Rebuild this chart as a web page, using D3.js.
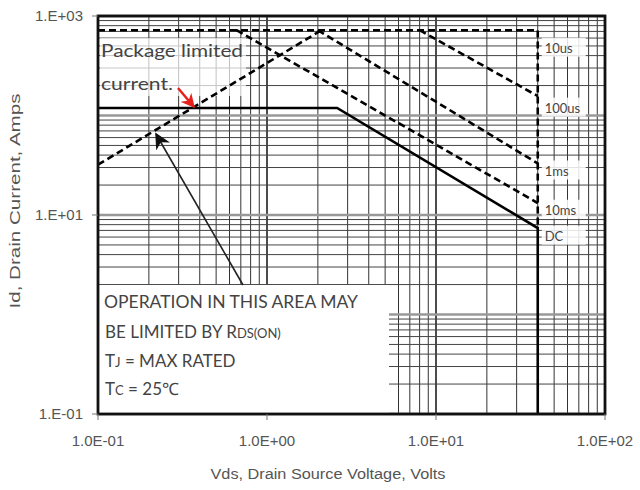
<!DOCTYPE html>
<meta charset="utf-8">
<style>
body { margin: 0; background: #fff; }
svg { font-family: "Liberation Sans", Arial, sans-serif; }
.note { font-family: Lato, "Noto Sans", sans-serif; fill: #444; }
</style>
<body>
<script src="https://cdn.jsdelivr.net/npm/d3@7"></script>
<script>
// SAFE OPERATING AREA - Vds vs Id, log / log

// axis ticks
var xTicks = [0.1, 1, 10, 100];
var xTickLabels = ["1.0E-01", "1.0E+00", "1.0E+01", "1.0E+02"];
var yTicks = [0.1, 10, 1000];
var yTickLabels = ["1.E-01", "1.E+01", "1.E+03"];

// curves, [Vds, Id] pairs
var line10us = [[0.1, 720], [40, 720], [40, 7.4]];
var line100us = [[8.0, 720], [40, 157]];
var line1ms = [[2.0, 720], [40, 33]];
var line10ms = [[0.66, 720], [40, 13.2]];
var lineDC = [[0.1, 119], [2.6, 119], [40, 7.4], [40, 0.1]];
var lineRds = [[0.1, 32], [2.1, 720]];

// curve labels on the right: name and the current they sit at
var curveNames = ["10us", "100us", "1ms", "10ms", "DC"];
var curveLabelAt = [480, 120, 28, 11.3, 6.2];

var width = 640, height = 490;
var pLeft = 98, pTop = 16, pRight = 605, pBottom = 414;

var svg = d3.select("body").append("svg")
  .attr("width", width)
  .attr("height", height);

var x = d3.scaleLog().domain([0.1, 100]).range([pLeft, pRight]);
var y = d3.scaleLog().domain([0.1, 1000]).range([pBottom, pTop]);

// GRID
var isDecade = d => Math.abs(Math.log10(d) - Math.round(Math.log10(d))) < 1e-9;
var grid = svg.append("g");
grid.selectAll(".vx").data(x.ticks())
  .enter().append("line")
  .attr("x1", d => x(d)).attr("x2", d => x(d))
  .attr("y1", pTop).attr("y2", pBottom)
  .attr("stroke", d => isDecade(d) ? "#111" : "#333")
  .attr("stroke-width", d => isDecade(d) ? 1.5 : 1);
grid.selectAll(".hy").data(y.ticks())
  .enter().append("line")
  .attr("x1", pLeft).attr("x2", pRight)
  .attr("y1", d => y(d)).attr("y2", d => y(d))
  .attr("stroke", d => isDecade(d) ? "#999" : "#444")
  .attr("stroke-width", d => isDecade(d) ? 2.4 : 1);

// white boxes behind the notes
svg.append("rect").attr("x", pLeft + 1).attr("y", 285)
  .attr("width", 290).attr("height", pBottom - 286).attr("fill", "#fff");
svg.append("rect").attr("x", pLeft + 2).attr("y", 38)
  .attr("width", 146).attr("height", 58).attr("fill", "#fff").attr("opacity", 0.7);
svg.selectAll(".lblbox").data(curveLabelAt)
  .enter().append("rect")
  .attr("x", x(40) + 4).attr("y", d => y(d) - 10)
  .attr("width", 44).attr("height", 19)
  .attr("fill", "#fff").attr("opacity", 0.85);

// CURVES
var line = d3.line().x(d => x(d[0])).y(d => y(d[1]));
var dashed = [line10us, line100us, line1ms, line10ms, lineRds];
svg.selectAll(".dash").data(dashed)
  .enter().append("path")
  .attr("d", line)
  .attr("fill", "none")
  .attr("stroke", "#000")
  .attr("stroke-width", 2.6)
  .attr("stroke-dasharray", "7,4");
svg.append("path")
  .attr("d", line(lineDC))
  .attr("fill", "none")
  .attr("stroke", "#000")
  .attr("stroke-width", 2.6);

// curve labels
svg.selectAll(".lbl").data(curveNames)
  .enter().append("text")
  .attr("class", "note")
  .attr("x", x(40) + 7)
  .attr("y", (d, i) => y(curveLabelAt[i]) + 5)
  .attr("font-size", 13)
  .text(d => d);

// FRAME
svg.append("rect")
  .attr("x", pLeft).attr("y", pTop)
  .attr("width", pRight - pLeft).attr("height", pBottom - pTop)
  .attr("fill", "none").attr("stroke", "#111").attr("stroke-width", 2.8);

// AXES
svg.selectAll(".xt").data(xTicks)
  .enter().append("line")
  .attr("x1", d => x(d)).attr("x2", d => x(d))
  .attr("y1", pBottom).attr("y2", pBottom + 6)
  .attr("stroke", "#777");
svg.selectAll(".xl").data(xTicks)
  .enter().append("text")
  .attr("x", d => x(d)).attr("y", 446)
  .attr("text-anchor", "middle")
  .attr("font-size", 15).attr("fill", "#555")
  .text((d, i) => xTickLabels[i]);
svg.selectAll(".yt").data(yTicks)
  .enter().append("line")
  .attr("x1", pLeft - 6).attr("x2", pLeft)
  .attr("y1", d => y(d)).attr("y2", d => y(d))
  .attr("stroke", "#777");
svg.selectAll(".yl").data(yTicks)
  .enter().append("text")
  .attr("x", pLeft - 15).attr("y", d => y(d) + 5)
  .attr("text-anchor", "end")
  .attr("font-size", 15).attr("fill", "#555")
  .text((d, i) => yTickLabels[i]);

svg.append("text")
  .attr("x", 328).attr("y", 479)
  .attr("text-anchor", "middle")
  .attr("font-size", 14).attr("fill", "#555")
  .attr("textLength", 235).attr("lengthAdjust", "spacingAndGlyphs")
  .text("Vds, Drain Source Voltage, Volts");
svg.append("text")
  .attr("transform", "translate(20,201) rotate(-90)")
  .attr("text-anchor", "middle")
  .attr("font-size", 14).attr("fill", "#555")
  .attr("textLength", 215).attr("lengthAdjust", "spacingAndGlyphs")
  .text("Id, Drain Current, Amps");

// NOTES
svg.append("text").attr("class", "note")
  .attr("x", 101).attr("y", 57).attr("font-size", 18)
  .attr("textLength", 142).attr("lengthAdjust", "spacingAndGlyphs")
  .text("Package limited");
svg.append("text").attr("class", "note")
  .attr("x", 101).attr("y", 90).attr("font-size", 18)
  .attr("textLength", 72).attr("lengthAdjust", "spacingAndGlyphs")
  .text("current.");

var notes = svg.append("g").attr("class", "note").attr("font-size", 17);
notes.append("text").attr("x", 104).attr("y", 308)
  .attr("textLength", 254).attr("lengthAdjust", "spacingAndGlyphs")
  .text("OPERATION IN THIS AREA MAY");
var t2 = notes.append("text").attr("x", 105).attr("y", 338);
t2.append("tspan").text("BE LIMITED BY R");
t2.append("tspan").attr("font-size", 13).text("DS(ON)");
var t3 = notes.append("text").attr("x", 105).attr("y", 367);
t3.append("tspan").text("T");
t3.append("tspan").attr("font-size", 13).text("J");
t3.append("tspan").text(" = MAX RATED");
var t4 = notes.append("text").attr("x", 105).attr("y", 395);
t4.append("tspan").text("T");
t4.append("tspan").attr("font-size", 13).text("C");
t4.append("tspan").text(" = 25\u2103");

// ARROWS
var defs = svg.append("defs");
defs.append("marker").attr("id", "redhead")
  .attr("viewBox", "0 0 10 10").attr("refX", 9).attr("refY", 5)
  .attr("markerWidth", 14).attr("markerHeight", 14)
  .attr("markerUnits", "userSpaceOnUse")
  .attr("orient", "auto")
  .append("path").attr("d", "M0,0 L10,5 L0,10 L3,5 Z").attr("fill", "#e8201c");
defs.append("marker").attr("id", "blackhead")
  .attr("viewBox", "0 0 10 10").attr("refX", 9).attr("refY", 5)
  .attr("markerWidth", 16).attr("markerHeight", 16)
  .attr("markerUnits", "userSpaceOnUse")
  .attr("orient", "auto")
  .append("path").attr("d", "M0,0 L10,5 L0,10 L3,5 Z").attr("fill", "#111");

svg.append("line")
  .attr("x1", 178).attr("y1", 88).attr("x2", x(0.37)).attr("y2", y(119) - 1)
  .attr("stroke", "#e8201c").attr("stroke-width", 2.5)
  .attr("marker-end", "url(#redhead)");
svg.append("line")
  .attr("x1", 243).attr("y1", 285).attr("x2", 156).attr("y2", 134)
  .attr("stroke", "#222").attr("stroke-width", 1.6)
  .attr("marker-end", "url(#blackhead)");
</script>
</body>
